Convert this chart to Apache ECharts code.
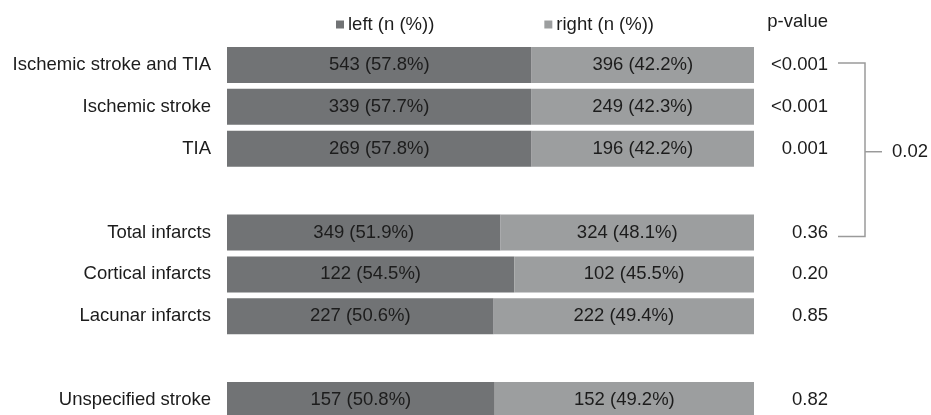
<!DOCTYPE html>
<html>
<head>
<meta charset="utf-8">
<script src="https://cdn.jsdelivr.net/npm/echarts@6/dist/echarts.min.js"></script>
<style>
  html, body { margin: 0; padding: 0; background: #fff; }
  #chart { width: 931px; height: 415px; }
</style>
</head>
<body>
<div id="chart"></div>
<script>
// Stroke subtypes by side (left / right), blank rows separate the groups
const categories = ['Ischemic stroke and TIA', 'Ischemic stroke', 'TIA', ' ',
  'Total infarcts', 'Cortical infarcts', 'Lacunar infarcts', '  ', 'Unspecified stroke'];
const leftN = [543, 339, 269, null, 349, 122, 227, null, 157];
const leftPct = [57.8, 57.7, 57.8, null, 51.9, 54.5, 50.6, null, 50.8];
const rightN = [396, 249, 196, null, 324, 102, 222, null, 152];
const rightPct = [42.2, 42.3, 42.2, null, 48.1, 45.5, 49.4, null, 49.2];
const pValues = ['<0.001', '<0.001', '0.001', '', '0.36', '0.20', '0.85', '', '0.82'];
const seriesNames = ['left (n (%))', 'right (n (%))'];
// comparison between row 0 (Ischemic stroke and TIA) and row 4 (Total infarcts)
const bracketRows = [0, 4];
const bracketP = '0.02';

const FONT = '"Liberation Sans", Arial, sans-serif';
const TEXT = '#1c1c1c';
const FS = 18.5;

const chart = echarts.init(document.getElementById('chart'), null, { renderer: 'canvas' });

function segLabel(counts, pcts) {
  return p => counts[p.dataIndex] == null ? '' : counts[p.dataIndex] + ' (' + pcts[p.dataIndex].toFixed(1) + '%)';
}

chart.setOption({
  animation: false,
  backgroundColor: '#ffffff',
  textStyle: { fontFamily: FONT },
  legend: {
    left: 331,
    top: 10,
    icon: 'rect',
    itemWidth: 8,
    itemHeight: 8,
    itemGap: 110,
    data: seriesNames,
    textStyle: { fontFamily: FONT, fontSize: FS, color: TEXT, padding: [0, 0, 0, -1] }
  },
  graphic: [{
    type: 'text',
    right: 931 - 828,
    top: 12,
    style: { text: 'p-value', font: FS + 'px ' + FONT, fill: TEXT, textAlign: 'right' }
  }],
  grid: { left: 227, right: 177, top: 44, height: 377, outerBoundsMode: 'none', containLabel: false },
  xAxis: { type: 'value', min: 0, max: 100, show: false },
  yAxis: [{
    type: 'category',
    data: categories,
    inverse: true,
    axisLine: { show: false },
    axisTick: { show: false },
    axisLabel: { margin: 16, fontFamily: FONT, fontSize: FS, color: TEXT }
  }, {
    type: 'category',
    data: pValues,
    inverse: true,
    position: 'right',
    axisLine: { show: false },
    axisTick: { show: false },
    axisLabel: { margin: 74, align: 'right', fontFamily: FONT, fontSize: FS, color: TEXT }
  }],
  series: [{
    name: seriesNames[0],
    type: 'bar',
    stack: 'side',
    barWidth: 36,
    itemStyle: { color: '#717375' },
    label: { show: true, position: 'inside', fontFamily: FONT, fontSize: FS, color: TEXT,
      formatter: segLabel(leftN, leftPct) },
    data: leftPct
  }, {
    name: seriesNames[1],
    type: 'bar',
    stack: 'side',
    barWidth: 36,
    itemStyle: { color: '#9c9e9f' },
    label: { show: true, position: 'inside', fontFamily: FONT, fontSize: FS, color: TEXT,
      formatter: segLabel(rightN, rightPct) },
    data: rightPct
  }, {
    type: 'custom',
    silent: true,
    clip: false,
    data: [[0, bracketRows[0], bracketRows[1]]],
    renderItem: function (params, api) {
      const cs = params.coordSys;
      const right = cs.x + cs.width;
      const y0 = api.coord([0, api.value(1)])[1] - 2;
      const y1 = api.coord([0, api.value(2)])[1] + 4;
      const xa = right + 84, xb = right + 111, xt = right + 128;
      const ym = (y0 + y1) / 2 + 2;
      const ls = { stroke: '#9a9a9a', lineWidth: 1.5, fill: null };
      return {
        type: 'group',
        children: [
          { type: 'polyline', shape: { points: [[xa, y0], [xb, y0], [xb, y1], [xa, y1]] }, style: ls },
          { type: 'line', shape: { x1: xb, y1: ym, x2: xt, y2: ym }, style: ls },
          { type: 'text', x: right + 138, y: ym,
            style: { text: bracketP, font: FS + 'px ' + FONT, fill: TEXT, textVerticalAlign: 'middle' } }
        ]
      };
    }
  }]
});
</script>
</body>
</html>
